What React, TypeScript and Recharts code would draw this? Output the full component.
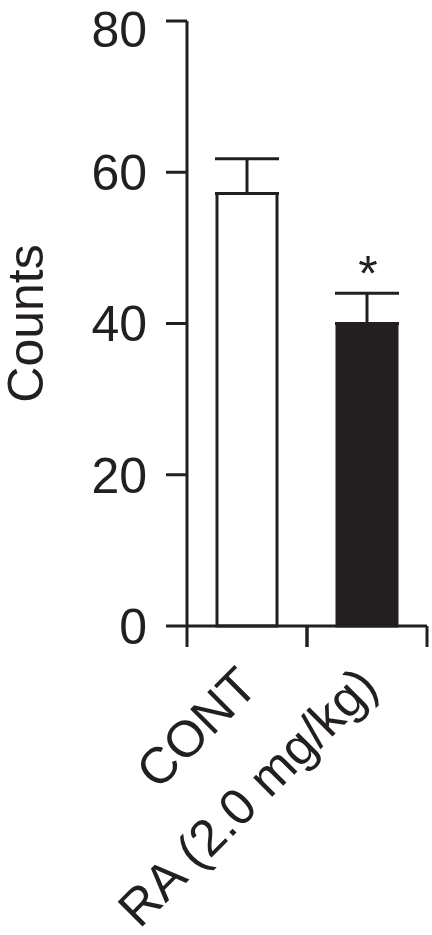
import React from "react";
import { Bar, Cell, ComposedChart, ErrorBar, Line, XAxis, YAxis } from "recharts";

const groups = ["CONT", "RA (2.0 mg/kg)"];
const means = [57.2, 40.0];
const sems = [4.6, 4.0];
const fills = ["#ffffff", "#231f20"];
const marks = ["", "*"];
const yTicks = [0, 20, 40, 60, 80];

const INK = "#231f20";
const FONT = "'Liberation Sans', Arial, sans-serif";
const W = 432;
const H = 935;
const MARGIN = { top: 21, right: 5, bottom: 0, left: 0 };
const Y_AXIS_W = 187;
const X_AXIS_H = 309;
const BAND = (W - MARGIN.right - Y_AXIS_W) / groups.length;

const data = groups.map((g, i) => ({
  group: g,
  mean: means[i],
  err: [0, sems[i]],
  top: means[i] + sems[i],
}));

// category label, rotated, plus the tick marks at the band edges
function GroupTick(props: any) {
  const { x, y, payload } = props;
  const tx = x + 13;
  const ty = y + 63;
  return (
    <g>
      <line x1={x - BAND / 2} x2={x - BAND / 2} y1={y} y2={y + 21} stroke={INK} strokeWidth={3} />
      <line x1={x + BAND / 2} x2={x + BAND / 2} y1={y} y2={y + 21} stroke={INK} strokeWidth={3} />
      <text x={tx} y={ty} textAnchor="end" transform={`rotate(-45, ${tx}, ${ty})`} fontSize={51} fontFamily={FONT} fill={INK}>
        {payload.value}
      </text>
    </g>
  );
}

function CountsLabel(props: any) {
  const vb = props.viewBox;
  const cx = vb.x + 43;
  const cy = vb.y + vb.height / 2;
  return (
    <text x={cx} y={cy} textAnchor="middle" transform={`rotate(-90, ${cx}, ${cy})`} fontSize={50} fontFamily={FONT} fill={INK}>
      Counts
    </text>
  );
}

function Mark(props: any) {
  const { x, y, index } = props;
  if (!marks[index]) return null;
  return (
    <text x={x + 1} y={y - 2} textAnchor="middle" fontSize={50} fontFamily={FONT} fill={INK}>
      {marks[index]}
    </text>
  );
}

export default function App() {
  return (
    <div style={{ position: "absolute", left: 0, top: 0, width: W, height: H, background: "#fff" }}>
      <ComposedChart width={W} height={H} data={data} margin={MARGIN}>
        <XAxis
          dataKey="group"
          height={X_AXIS_H}
          tickLine={false}
          tickSize={0}
          tickMargin={0}
          interval={0}
          axisLine={{ stroke: INK, strokeWidth: 3 }}
          tick={<GroupTick />}
        />
        <YAxis
          width={Y_AXIS_W}
          domain={[0, 80]}
          ticks={yTicks}
          tickSize={21}
          tickMargin={19}
          axisLine={{ stroke: INK, strokeWidth: 3 }}
          tickLine={{ stroke: INK, strokeWidth: 3 }}
          tick={{ fontSize: 50, fontFamily: FONT, fill: INK }}
          label={<CountsLabel />}
        />
        <Bar dataKey="mean" barSize={60} stroke={INK} strokeWidth={3} isAnimationActive={false}>
          {data.map((d, i) => (
            <Cell key={d.group} fill={fills[i]} />
          ))}
          <ErrorBar dataKey="err" direction="y" width={32} stroke={INK} strokeWidth={3} />
        </Bar>
        <Line dataKey="top" stroke="none" dot={false} activeDot={false} isAnimationActive={false} label={<Mark />} />
      </ComposedChart>
    </div>
  );
}
